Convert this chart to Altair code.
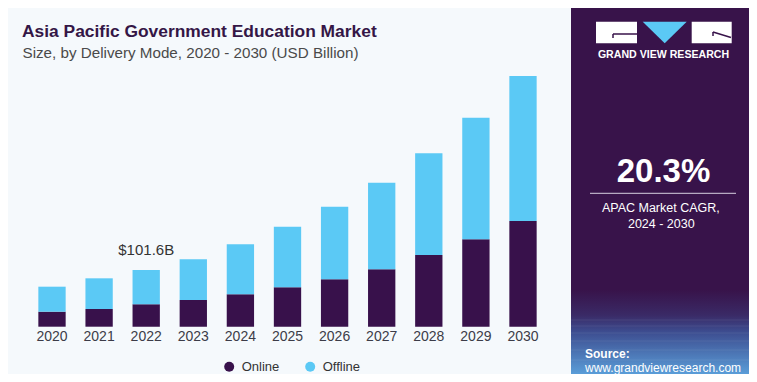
import altair as alt
import pandas as pd

# ---------------- data ----------------
years = ["2020", "2021", "2022", "2023", "2024", "2025", "2026", "2027", "2028", "2029", "2030"]
online = [26.9, 31.7, 40.1, 47.8, 58.1, 70.6, 84.9, 102.9, 128.5, 156.6, 189.4]
offline = [44.8, 55.0, 61.5, 73.0, 89.6, 108.6, 130.1, 155.1, 182.2, 217.9, 259.8]
series = ["Online", "Offline"]
series_colors = ["#38114b", "#5bc9f5"]

highlight_year = "2022"
highlight_label = "$101.6B"

title_text = "Asia Pacific Government Education Market"
subtitle_text = "Size, by Delivery Mode, 2020 - 2030 (USD Billion)"
cagr_value = "20.3%"
cagr_lines = ["APAC Market CAGR,", "2024 - 2030"]
brand_text = "GRAND VIEW RESEARCH"
source_label = "Source:"
source_url = "www.grandviewresearch.com"

# ---------------- layout ----------------
W, H = 741, 366
FONT = "Liberation Sans"
PANEL = "#38134a"
BG = "#f5f9fc"
PX0, PX1 = 563, 741  # right panel extent

rows = []
for yr, on, off in zip(years, online, offline):
    rows.append({"year": yr, "series": "Online", "order": 0, "value": on})
    rows.append({"year": yr, "series": "Offline", "order": 1, "value": off})
df = pd.DataFrame(rows)

x_scale = alt.Scale(domain=years, range=[20.45, 538.55], paddingInner=0.42, paddingOuter=0.21)
y_scale = alt.Scale(domain=[0, 571.1], range=[318.7, 0])

bars = alt.Chart(df).mark_bar().encode(
    x=alt.X("year:O", scale=x_scale, axis=None),
    y=alt.Y("value:Q", stack="zero", scale=y_scale, axis=None),
    color=alt.Color(
        "series:N",
        scale=alt.Scale(domain=series, range=series_colors),
        legend=alt.Legend(
            title=None, orient="none", legendX=214.7, legendY=352,
            direction="horizontal", symbolType="circle", symbolSize=100,
            symbolStrokeWidth=0, labelFontSize=13, labelFont=FONT,
            labelColor="#333333", columnPadding=24, labelOffset=6, padding=0,
        ),
    ),
    order=alt.Order("order:Q", sort="ascending"),
)

labels = alt.Chart(pd.DataFrame({"year": years})).mark_text(
    fontSize=14, font=FONT, color="#3c3c48", baseline="middle"
).encode(
    x=alt.X("year:O", scale=x_scale, axis=None),
    y=alt.value(329.3),
    text="year:N",
)

totals = {yr: on + off for yr, on, off in zip(years, online, offline)}
ann_df = pd.DataFrame({"year": [highlight_year], "total": [totals[highlight_year]], "label": [highlight_label]})
ann = alt.Chart(ann_df).mark_text(
    fontSize=15, font=FONT, color="#333333", baseline="alphabetic", dy=-15
).encode(
    x=alt.X("year:O", scale=x_scale, axis=None),
    y=alt.Y("total:Q", scale=y_scale, axis=None),
    text="label:N",
)

one = pd.DataFrame({"k": [0]})


def txt(text, x, y, size, color, weight="normal", align="left", baseline="alphabetic", font=FONT):
    return alt.Chart(one).mark_text(
        fontSize=size, font=font, color=color, fontWeight=weight, align=align, baseline=baseline
    ).encode(x=alt.value(x), y=alt.value(y), text=alt.value(text))


def box(x, x2, y, y2, color):
    return alt.Chart(one).mark_rect(color=color).encode(
        x=alt.value(x), x2=alt.value(x2), y=alt.value(y), y2=alt.value(y2)
    )


def line(x, x2, y, y2, color, w=1.0, opacity=1.0):
    return alt.Chart(one).mark_rule(color=color, strokeWidth=w, opacity=opacity).encode(
        x=alt.value(x), x2=alt.value(x2), y=alt.value(y), y2=alt.value(y2)
    )


title = txt(title_text, 14, 28.7, 17.4, "#341646", weight="bold")
subtitle = txt(subtitle_text, 14.5, 50.3, 15.2, "#4a4a4a")

panel = box(PX0, PX1, 0, H, PANEL)
grad = alt.Chart(one).mark_rect(
    color=alt.Gradient(
        gradient="linear",
        stops=[
            alt.GradientStop(color=PANEL, offset=0),
            alt.GradientStop(color="#3a2a66", offset=0.3),
            alt.GradientStop(color="#3d4d90", offset=0.5),
            alt.GradientStop(color="#5a9dd8", offset=1),
        ],
        x1=0, x2=0, y1=0, y2=1,
    )
).encode(x=alt.value(PX0), x2=alt.value(PX1), y=alt.value(282), y2=alt.value(H))

mesh = [line(PX0, PX1, yy, yy, "#ffffff", 0.6, 0.12) for yy in (312, 318, 325, 333, 342, 352)]

logo_l = box(588, 629, 13.7, 35.3, "#ffffff")
logo_r = box(683.7, 723.7, 13.7, 35.3, "#ffffff")
notch1 = line(605, 629, 26, 26, PANEL, 1.5)
notch2 = line(605, 605, 26, 30, PANEL, 1.5)
notch3 = line(705, 723, 24, 29.5, PANEL, 1.5)
notch4 = line(705, 705, 24, 28, PANEL, 1.5)
tri = alt.Chart(one).mark_point(
    shape="M-1,-0.49L1,-0.49L0,0.49Z", filled=True, opacity=1, color="#5bc9f5", size=1936
).encode(x=alt.value(656.7), y=alt.value(24.5))
brand = txt(brand_text, 655.5, 47, 10.6, "#ffffff", weight="bold", align="center", baseline="middle")

cagr = txt(cagr_value, 655.5, 173.7, 33, "#ffffff", weight="bold", align="center")
sep = line(582, 728, 185.3, 185.3, "#d8d0e0", 1)
cagr1 = txt(cagr_lines[0], 652.8, 200.3, 12.5, "#ffffff", align="center", baseline="middle")
cagr2 = txt(cagr_lines[1], 653.3, 216, 12.5, "#ffffff", align="center", baseline="middle")

src1 = txt(source_label, 577, 350, 12, "#ffffff", weight="bold")
src2 = txt(source_url, 577, 363.5, 12, "#ffffff")

chart = alt.layer(
    bars, labels, ann, title, subtitle,
    panel, grad, *mesh, logo_l, logo_r, notch1, notch2, notch3, notch4, tri, brand,
    cagr, sep, cagr1, cagr2, src1, src2,
).properties(
    width=W, height=H, padding=0, autosize="none"
).configure(background=BG).configure_view(stroke=None)

chart.save("out.html", embed_options={"renderer": "svg", "actions": False})
